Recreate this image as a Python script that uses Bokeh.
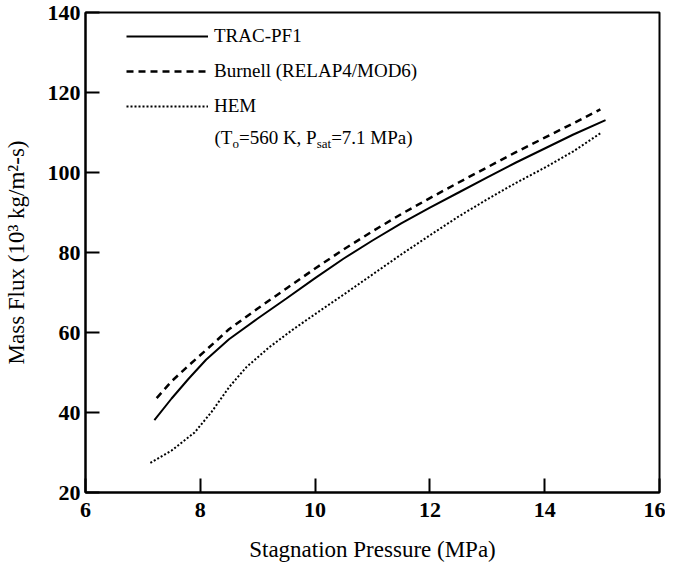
from bokeh.plotting import figure
from bokeh.models import Legend, LegendItem, Label, FixedTicker, Range1d
from bokeh.embed import file_html
from bokeh.resources import INLINE

# Data (x: stagnation pressure MPa, y: mass flux 10^3 kg/m2-s)
trac_x = [7.2, 7.5, 7.8, 8.1, 8.5, 9.0, 9.5, 10.0, 10.5, 11.0, 11.5, 12.0, 12.5, 13.0, 13.5, 14.0, 14.5, 15.06]
trac_y = [38.1, 43.5, 48.5, 53.2, 58.3, 63.5, 68.5, 73.6, 78.5, 83.0, 87.3, 91.2, 95.0, 98.8, 102.5, 106.0, 109.5, 113.1]

burnell_x = [7.24, 7.5, 7.8, 8.1, 8.5, 9.0, 9.5, 10.0, 10.5, 11.0, 11.5, 12.0, 12.5, 13.0, 13.5, 14.0, 14.5, 14.97]
burnell_y = [43.6, 47.8, 51.8, 55.6, 60.8, 66.0, 71.0, 76.0, 80.8, 85.3, 89.6, 93.6, 97.5, 101.3, 105.1, 108.7, 112.3, 115.8]

hem_x = [7.13, 7.5, 7.9, 8.2, 8.5, 8.8, 9.2, 9.6, 10.0, 10.5, 11.0, 11.5, 12.0, 12.5, 13.0, 13.5, 14.0, 14.5, 14.97]
hem_y = [27.4, 30.5, 35.0, 40.2, 46.3, 51.3, 56.3, 60.6, 64.6, 69.5, 74.5, 79.5, 84.3, 89.0, 93.3, 97.4, 101.2, 105.3, 109.8]

x_ticks = [6, 8, 10, 12, 14, 16]
y_ticks = [20, 40, 60, 80, 100, 120, 140]

labels = ["TRAC-PF1", "Burnell (RELAP4/MOD6)", "HEM"]

FONT = "Liberation Serif"

p = figure(frame_width=574, frame_height=480,
           x_range=Range1d(6, 16), y_range=Range1d(20, 140),
           output_backend="svg", toolbar_location=None,
           min_border_left=84, min_border_top=12, min_border_right=6, min_border_bottom=60)

p.grid.visible = False
p.outline_line_color = "black"
p.outline_line_width = 2

for ax in (p.xaxis[0], p.yaxis[0]):
    ax.axis_line_width = 2
    ax.major_tick_line_width = 2
    ax.major_tick_in = 14
    ax.major_tick_out = 0
    ax.minor_tick_line_color = None
    ax.major_label_text_font = FONT
    ax.major_label_text_font_size = "22px"
    ax.major_label_text_font_style = "bold"
    ax.major_label_text_color = "black"
    ax.axis_label_text_font = FONT
    ax.axis_label_text_font_size = "23px"
    ax.axis_label_text_font_style = "normal"
    ax.axis_label_text_color = "black"

p.xaxis[0].ticker = FixedTicker(ticks=x_ticks)
p.yaxis[0].ticker = FixedTicker(ticks=y_ticks)
p.xaxis[0].axis_label = "Stagnation Pressure (MPa)"
p.yaxis[0].axis_label = "Mass Flux (10\u00b3 kg/m\u00b2-s)"
p.xaxis[0].major_label_standoff = 10
p.xaxis[0].axis_label_standoff = 17
p.yaxis[0].major_label_standoff = 5
p.yaxis[0].axis_label_standoff = 16

r1 = p.line(trac_x, trac_y, line_color="black", line_width=2)
r2 = p.line(burnell_x, burnell_y, line_color="black", line_width=2.5, line_dash="7 5")
r3 = p.line(hem_x, hem_y, line_color="black", line_width=2, line_dash="2 2")

legend = Legend(items=[LegendItem(label=labels[0], renderers=[r1]),
                       LegendItem(label=labels[1], renderers=[r2]),
                       LegendItem(label=labels[2], renderers=[r3])],
                location=(41, 374), orientation="vertical",
                glyph_width=82, glyph_height=24, label_height=24, spacing=11,
                padding=0, margin=0, label_standoff=6,
                border_line_color=None, background_fill_alpha=0,
                label_text_font=FONT, label_text_font_size="19px",
                label_text_color="black")
p.add_layout(legend)

# Fourth legend line with subscripts, composed of pieces
fs = 19
sub = 13
x0 = 129
yb = 355
pieces = [("(T", fs, 0), ("o", sub, -6), ("=560 K, P", fs, 0), ("sat", sub, -6), ("=7.1 MPa)", fs, 0)]
widths = {"(T": (333 + 611) / 1000 * fs, "o": 500 / 1000 * sub,
          "=560 K, P": 4092 / 1000 * fs, "sat": 1111 / 1000 * sub,
          "=7.1 MPa)": 4286 / 1000 * fs}
cx = x0
for txt, size, dy in pieces:
    p.add_layout(Label(x=cx, y=yb + dy, x_units="screen", y_units="screen", text=txt,
                       text_font=FONT, text_font_size=f"{size}px", text_baseline="middle",
                       text_color="black"))
    cx += widths[txt]

open("out.html", "w").write(file_html(p, INLINE))
